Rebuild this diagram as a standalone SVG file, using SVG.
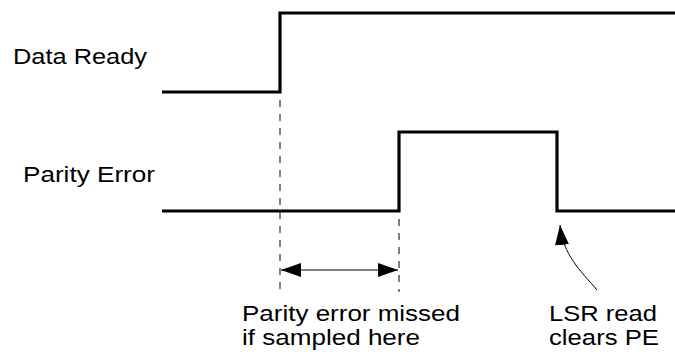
<svg xmlns="http://www.w3.org/2000/svg" width="675" height="352" viewBox="0 0 675 352">
<style>
.sig{fill:none;stroke:#000;stroke-width:3.2;stroke-linejoin:miter}
.dash{fill:none;stroke:#000;stroke-width:1;stroke-dasharray:7,7}
.lbl{font-family:"Liberation Sans",Arial,sans-serif;font-size:22px;fill:#000}
</style>
<defs>
<marker id="ah" viewBox="0 0 20 14" refX="20" refY="7" markerWidth="20" markerHeight="14" markerUnits="userSpaceOnUse" orient="auto-start-reverse">
<path d="M0,0 L20,7 L0,14 Z" fill="#000"/>
</marker>
</defs>
<rect width="675" height="352" fill="#fff"/>
<g id="data-ready">
<path class="sig" d="M162,92 H280 V13 H675"/>
<text class="lbl" x="13" y="64" textLength="134" lengthAdjust="spacingAndGlyphs">Data Ready</text>
</g>
<g id="parity-error">
<path class="sig" d="M162,211 H399 V132 H557 V211 H675"/>
<text class="lbl" x="23" y="182" textLength="132" lengthAdjust="spacingAndGlyphs">Parity Error</text>
</g>
<g id="connectors">
<line class="dash" x1="280" y1="100" x2="280" y2="292"/>
<line class="dash" x1="399" y1="219" x2="399" y2="292"/>
<line x1="281" y1="270" x2="398" y2="270" stroke="#000" stroke-width="1.2" marker-start="url(#ah)" marker-end="url(#ah)"/>
<path d="M597,290 C580,270 563,255 560,225" fill="none" stroke="#000" stroke-width="1" marker-end="url(#ah)"/>
</g>
<g id="missed-note">
<text class="lbl" x="242" y="321" textLength="218" lengthAdjust="spacingAndGlyphs">Parity error missed</text>
<text class="lbl" x="242" y="345" textLength="178" lengthAdjust="spacingAndGlyphs">if sampled here</text>
</g>
<g id="lsr-note">
<text class="lbl" x="549" y="321" textLength="108" lengthAdjust="spacingAndGlyphs">LSR read</text>
<text class="lbl" x="549" y="345" textLength="110" lengthAdjust="spacingAndGlyphs">clears PE</text>
</g>
</svg>
